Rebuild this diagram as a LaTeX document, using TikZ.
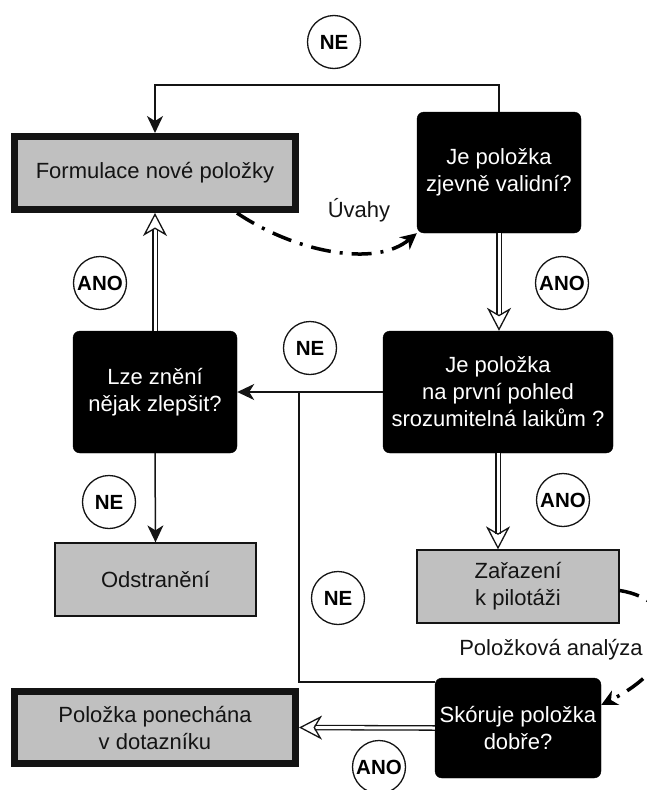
\documentclass[tikz,border=0pt]{standalone}
\usepackage{fontspec}
\setmainfont{Liberation Sans}
\usepackage{xcolor}
\definecolor{boxgray}{RGB}{192, 192, 192}
\definecolor{ink}{RGB}{20, 20, 20}
\usepackage{tikz}
\usetikzlibrary{arrows.meta,calc}

\begin{document}
\begin{tikzpicture}[
  x=1pt, y=-1pt,
  decision/.style={draw=black, fill=black, text=white, rounded corners=7pt, font=\fontsize{22}{27}\selectfont, align=center, inner sep=0pt},
  action/.style={draw=ink, fill=boxgray, text=ink, font=\fontsize{22}{27}\selectfont, align=center, inner sep=0pt, line width=1.3pt},
  terminal/.style={action, line width=7pt},
  answer/.style={draw=ink, fill=white, circle, minimum size=53pt, inner sep=0pt, line width=1.3pt, font=\fontsize{20.5}{22}\selectfont\bfseries},
  note/.style={font=\fontsize{22}{27}\selectfont, text=ink},
  flow/.style={-{Stealth[length=17pt, width=16pt, inset=5pt]}, line width=1.5pt, color=ink},
  link/.style={line width=1.5pt, color=ink},
  yes/.style={double=white, double distance=3pt, line width=1.3pt, color=ink, -{Stealth[open, length=23pt, width=24pt, inset=7pt, line width=1.3pt]}},
  analysis/.style={line width=3.5pt, color=black, dash pattern=on 20pt off 9pt on 3pt off 9pt, -{Stealth[length=16pt, width=16pt, inset=5pt]}}
]
\useasboundingbox (0, 0) rectangle (646, 790);

\node[terminal, minimum width=281pt, minimum height=73pt] (form) at (155, 173) {Formulace nové položky};
\node[decision, minimum width=164pt, minimum height=121pt] (valid) at (499, 172.5) {Je položka\\zjevně validní?};
\node[decision, minimum width=164pt, minimum height=122pt] (improve) at (155, 392) {Lze znění\\nějak zlepšit?};
\node[decision, minimum width=230pt, minimum height=122pt] (clear) at (498, 392) {Je položka\\na první pohled\\srozumitelná laikům ?};
\node[action, minimum width=201pt, minimum height=73pt] (remove) at (155.5, 579.5) {Odstranění};
\node[action, minimum width=202pt, minimum height=73pt] (pilot) at (518, 586.5) {Zařazení\\k pilotáži};
\node[decision, minimum width=166pt, minimum height=100pt] (score) at (518, 728) {Skóruje položka\\dobře?};
\node[terminal, minimum width=281pt, minimum height=72pt] (keep) at (155, 727.5) {Položka ponechána\\v dotazníku};

\node[answer] (ne1) at (334, 42) {NE};
\node[answer] (ano1) at (100, 283) {ANO};
\node[answer] (ano2) at (562, 283) {ANO};
\node[answer] (ne2) at (310, 348) {NE};
\node[answer] (ne3) at (109, 502) {NE};
\node[answer] (ano3) at (563, 500) {ANO};
\node[answer] (ne4) at (338, 598) {NE};
\node[answer] (ano4) at (379, 767) {ANO};

\node[note] (thoughts) at (359, 210) {Úvahy};
\node[note] (itemanalysis) at (551, 650) {Položková analýza};

\coordinate (merge) at (299, 392);

\draw[flow] (valid.north) -- ++(0, -27) -| (form.north);
\draw[analysis] ([xshift=-62pt]form.south east) .. controls (295, 252) and (375, 268) .. (valid.south west);
\draw[yes] (valid.south) -- (valid.south |- clear.north);
\draw[flow] (clear.west) -- (improve.east);
\draw[yes] (improve.north) -- (form.south);
\draw[flow] (improve.south) -- (remove.north);
\draw[yes] (clear.south) -- (clear.south |- pilot.north);
\draw[analysis] ([yshift=-4pt]pilot.east) .. controls (680, 600) and (690, 660) .. ([yshift=23pt]score.east);
\draw[link] ([yshift=46pt]score.west) -| (merge);
\draw[yes] (score.west) -- (keep.east);
\end{tikzpicture}
\end{document}
